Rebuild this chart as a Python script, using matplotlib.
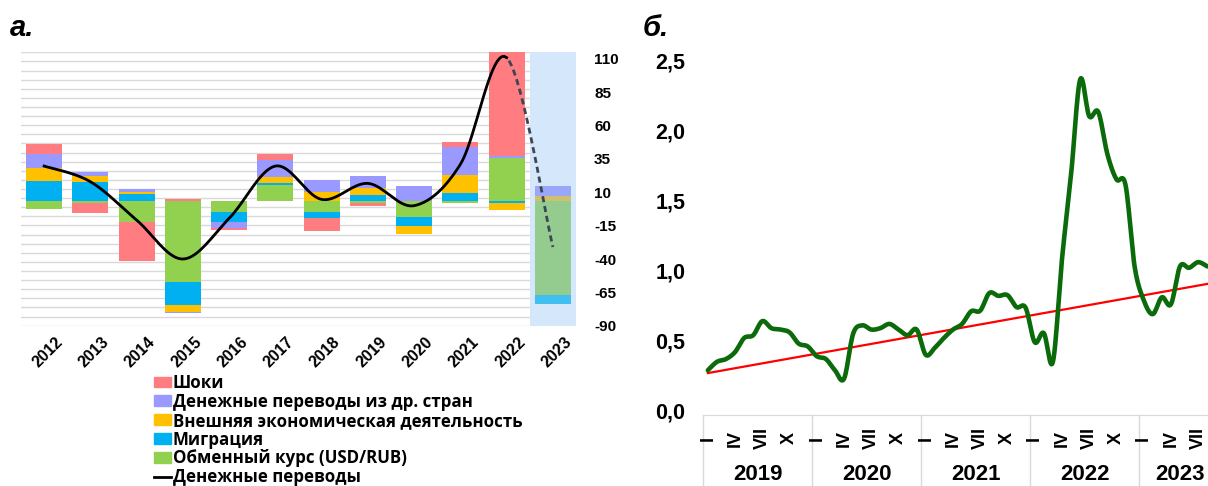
import numpy as np
import matplotlib.pyplot as plt
from matplotlib.patches import Patch
from matplotlib.lines import Line2D
import matplotlib.transforms as mtransforms

W, H = 1208, 486

# ---- панель а: разложение денежных переводов ----
years = ['2012', '2013', '2014', '2015', '2016', '2017', '2018', '2019', '2020', '2021', '2022', '2023']
fx      = [-6.2, -2.0, -15.8, -60.8, -8.5, 11.5, -8.3, -2.0, -12.0, -1.7, 32.3, -70.7]
migr    = [14.8, 14.3, 4.8, -17.5, -7.5, 2.0, -5.0, 4.3, -7.0, 5.5, -1.7, -7.0]
foreign = [10.0, 4.5, 2.0, -5.0, 0.0, 4.5, 6.8, 5.5, -6.2, 13.8, -5.0, 3.8]
remit   = [10.3, 2.5, 2.0, -1.0, -4.3, 12.5, 8.5, 9.0, 11.3, 20.7, 1.3, 7.3]
shocks  = [7.5, -7.2, -29.5, 1.0, -2.0, 4.5, -9.3, -1.7, 0.0, 3.8, 78.0, 0.0]
total   = [29.7, 18.0, -10.8, -40.0, -9.5, 29.7, 4.7, 16.7, 0.0, 31.0, 111.0, -31.0]
right_ticks = [110, 85, 60, 35, 10, -15, -40, -65, -90]

labels_a = ['Шоки', 'Денежные переводы из др. стран', 'Внешняя экономическая деятельность',
            'Миграция', 'Обменный курс (USD/RUB)', 'Денежные переводы']

# ---- панель б ----
v2019 = [0.29, 0.35, 0.37, 0.42, 0.52, 0.54, 0.64, 0.59, 0.58, 0.56, 0.48, 0.46]
v2020 = [0.39, 0.37, 0.29, 0.23, 0.55, 0.61, 0.58, 0.59, 0.62, 0.58, 0.54, 0.58]
v2021 = [0.40, 0.45, 0.52, 0.58, 0.62, 0.71, 0.715, 0.84, 0.82, 0.825, 0.74, 0.735]
v2022 = [0.49, 0.555, 0.35, 1.08, 1.68, 2.36, 2.10, 2.13, 1.83, 1.65, 1.61, 1.03]
v2023 = [0.79, 0.69, 0.81, 0.76, 1.03, 1.02, 1.06, 1.03]
trend_m = [0, 55]
trend_v = [0.27, 0.905]
years_b = ['2019', '2020', '2021', '2022', '2023']
months_lbl = {0: 'I', 3: 'IV', 6: 'VII', 9: 'X'}
yticks_b = [0.0, 0.5, 1.0, 1.5, 2.0, 2.5]

RED, PURPLE, YELLOW, BLUE, GREEN = '#ff7c80', '#9999ff', '#ffc000', '#00b0f0', '#92d050'
colors_fc = {'fx': '#94cc90', 'migr': '#40bff0', 'foreign': '#cfc070', 'remit': '#9aa6f8', 'shocks': '#f5a0a8'}
FONT = 'Liberation Sans'


def smooth(x, y, n=20):
    # сглаживание как в Excel (Catmull-Rom)
    x = np.asarray(x, float)
    y = np.asarray(y, float)
    px = np.concatenate([[x[0]], x, [x[-1]]])
    py = np.concatenate([[y[0]], y, [y[-1]]])
    xs, ys = [], []
    for i in range(1, len(px) - 2):
        t = np.linspace(0, 1, n, endpoint=False)
        for p, out in ((px, xs), (py, ys)):
            p0, p1, p2, p3 = p[i - 1], p[i], p[i + 1], p[i + 2]
            out.append(0.5 * ((2 * p1) + (-p0 + p2) * t + (2 * p0 - 5 * p1 + 4 * p2 - p3) * t ** 2
                              + (-p0 + 3 * p1 - 3 * p2 + p3) * t ** 3))
    xs.append([x[-1]])
    ys.append([y[-1]])
    return np.concatenate(xs), np.concatenate(ys)


fig = plt.figure(figsize=(W / 100, H / 100), dpi=100)

def box(x0, y0, x1, y1):
    return [x0 / W, 1 - y1 / H, (x1 - x0) / W, (y1 - y0) / H]

ax = fig.add_axes(box(21, 52.3, 576, 325.7))
ax2 = ax.twinx()
x = np.arange(len(years))
ax.set_xlim(-0.5, len(years) - 0.5)
ax.set_ylim(-93.8, 111.3)
ax2.set_ylim(-90, 115)

ax.axvspan(10.5, 11.5, color='#d5e8fb', zorder=0, lw=0)
for g in np.linspace(-90, 115, 31):
    ax2.axhline(g, color='#d9d9d9', lw=1.0, zorder=0)

series = [('fx', fx, GREEN), ('migr', migr, BLUE), ('foreign', foreign, YELLOW),
          ('remit', remit, PURPLE), ('shocks', shocks, RED)]
pos = np.zeros(len(years))
neg = np.zeros(len(years))
for key, vals, col in series:
    vals = np.asarray(vals)
    cols = [col] * (len(years) - 1) + [colors_fc[key]]
    bottom = np.where(vals >= 0, pos, neg)
    ax.bar(x, vals, bottom=bottom, width=0.78, color=cols, zorder=2, lw=0)
    pos = pos + np.where(vals >= 0, vals, 0)
    neg = neg + np.where(vals < 0, vals, 0)

sx, sy = smooth(x, total)
split = sx <= 10
ax2.plot(sx[split], sy[split], color='black', lw=2, zorder=5)
ax2.plot(sx[~split], sy[~split], color='#3b4656', lw=2, ls=(0, (2.2, 1.4)), zorder=5)
ax.set_zorder(ax2.get_zorder() + 1)
ax.patch.set_visible(False)
# линии поверх столбцов
for ln in list(ax2.lines[-2:]):
    ln.remove()
    ln.set_transform(ax2.transData)
    ax.add_artist(ln)

for a in (ax, ax2):
    for s in a.spines.values():
        s.set_visible(False)
ax.set_yticks([])
ax2.set_yticks(right_ticks)
ax2.set_yticklabels([str(t) for t in right_ticks], fontsize=11, fontweight='bold', family=FONT)
ax2.tick_params(axis='y', length=0, pad=13)
ax.set_xticks(x)
ax.set_xticklabels(years, rotation=45, ha='right', rotation_mode='anchor',
                   fontsize=11.5, fontweight='bold', family=FONT)
ax.tick_params(axis='x', length=0, pad=6)
off = mtransforms.ScaledTranslation(11 / 100, 0, fig.dpi_scale_trans)
for lab in ax.get_xticklabels():
    lab.set_transform(lab.get_transform() + off)

handles = [Patch(color=c) for c in (RED, PURPLE, YELLOW, BLUE, GREEN)]
handles.append(Line2D([], [], color='black', lw=2))
leg = fig.legend(handles, labels_a, loc='upper left', bbox_to_anchor=(154 / W, 1 - 374 / H),
                 frameon=False, handlelength=1.0, handleheight=0.6, handletextpad=0.12,
                 labelspacing=0.05, borderpad=0, borderaxespad=0,
                 prop={'family': 'Open Sans', 'weight': 'bold', 'size': 12.2})

fig.text(10 / W, 1 - 28 / H, 'а.', fontsize=21, fontweight='bold', style='italic',
         family=FONT, va='center', ha='left')
fig.text(643 / W, 1 - 28 / H, 'б.', fontsize=21, fontweight='bold', style='italic',
         family=FONT, va='center', ha='left')

# ---- панель б ----
vals_b = v2019 + v2020 + v2021 + v2022 + v2023
m = np.arange(len(vals_b))
n_months = 57
bx = fig.add_axes(box(703.3, 60, 703.3 + n_months * 9.08, 414.5))
bx.set_xlim(-0.5, n_months - 0.5)
bx.set_ylim(-0.025, 2.5)
gx, gy = smooth(m, vals_b, n=12)
bx.plot(gx, gy, color='#0b6b0b', lw=3.3, solid_capstyle='round', zorder=3)
bx.plot(trend_m, trend_v, color='red', lw=1.6, zorder=2)

for s in ('top', 'right', 'left'):
    bx.spines[s].set_visible(False)
bx.spines['bottom'].set_color('#d9d9d9')
bx.set_yticks(yticks_b)
bx.set_yticklabels([f'{t:.1f}'.replace('.', ',') for t in yticks_b], fontsize=15.5,
                   fontweight='bold', family=FONT)
bx.tick_params(axis='y', length=0, pad=13)
bx.set_xticks([])

trans = mtransforms.blended_transform_factory(bx.transData, bx.transAxes)
ax_h = 414.5 - 60
for i, yr in enumerate(years_b):
    start = i * 12 - 0.5
    bx.plot([start, start], [0, -75 / ax_h], transform=trans, color='#d9d9d9', lw=1, clip_on=False)
    end = min(start + 12, n_months - 0.5)
    bx.text((start + end) / 2, -(474 - 414.5) / ax_h, yr, transform=trans, ha='center', va='center',
            fontsize=16, fontweight='bold', family=FONT)
    for k, lbl in months_lbl.items():
        mm = i * 12 + k
        if mm < n_months:
            bx.text(mm, -(438 - 414.5) / ax_h, lbl, transform=trans, ha='center', va='center',
                    rotation=90, fontsize=13, fontweight='bold', family=FONT)

fig.savefig('out.png', dpi=100)
